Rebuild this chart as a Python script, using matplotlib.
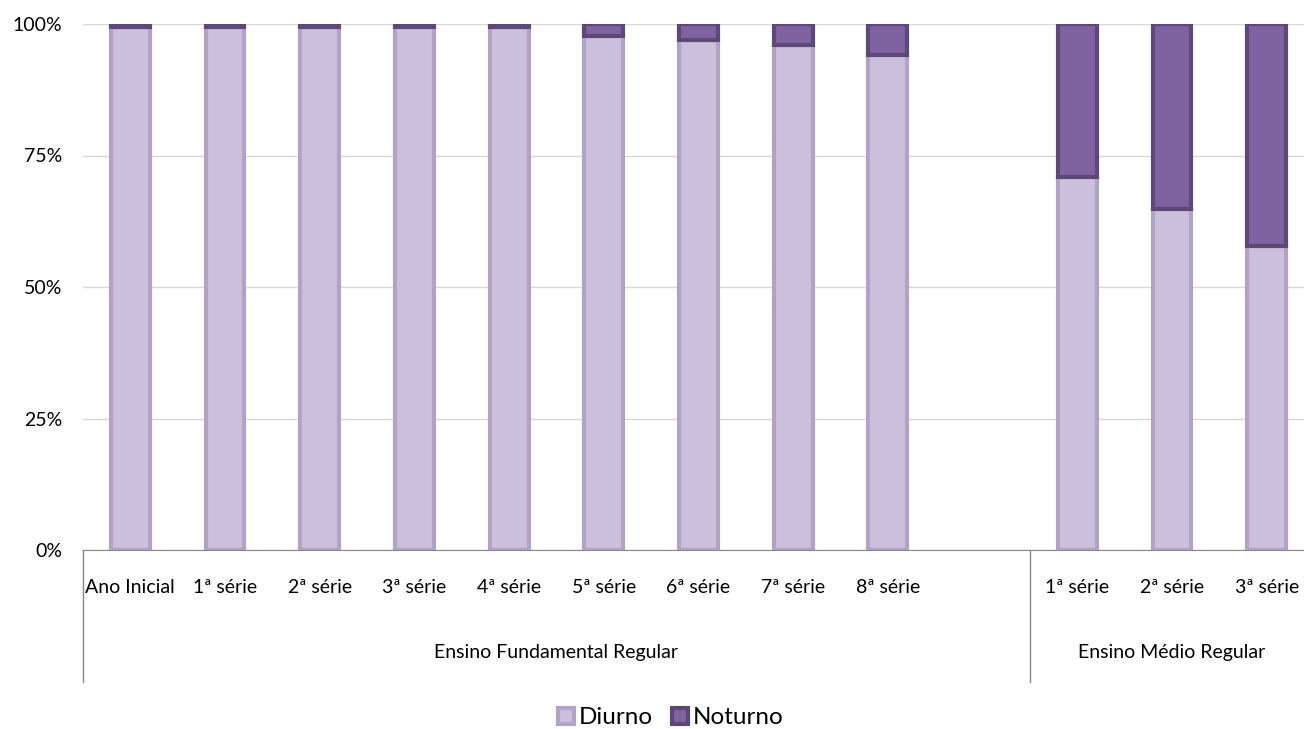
import matplotlib.pyplot as plt
from matplotlib.patches import Patch

categories = ["Ano Inicial", "1ª série", "2ª série", "3ª série", "4ª série",
              "5ª série", "6ª série", "7ª série", "8ª série", "",
              "1ª série", "2ª série", "3ª série"]
diurno = [99.5, 99.5, 99.5, 99.5, 99.5, 97.7, 97.0, 96.0, 94.1, None, 70.9, 64.8, 57.8]
groups = ["Ensino Fundamental Regular", "Ensino Médio Regular"]
group_sizes = [10, 3]

plt.rcParams["font.family"] = ["Lato", "DejaVu Sans"]

fig = plt.figure(figsize=(13.04, 7.29), dpi=100)
ax = fig.add_axes([83 / 1304, 1 - 550 / 729, (1314 - 83) / 1304, (550 - 24) / 729])

xs = [i for i, v in enumerate(diurno) if v is not None]
d = [diurno[i] for i in xs]
n = [100 - v for v in d]
w = 0.41
ax.bar(xs, d, width=w, color="#CBC0DB", edgecolor="#B3A2C7", linewidth=3, zorder=3)
ax.bar(xs, n, bottom=d, width=w, color="#7F63A0", edgecolor="#5E4878", linewidth=3, zorder=3)

ax.set_xlim(-0.5, len(categories) - 0.5)
ax.set_ylim(0, 100)
ax.set_yticks([0, 25, 50, 75, 100])
ax.set_yticklabels(["0%", "25%", "50%", "75%", "100%"], fontsize=14)
ax.yaxis.grid(True, color="#D9D9D9", linewidth=1)
ax.set_axisbelow(True)
for s in ["top", "right", "left"]:
    ax.spines[s].set_visible(False)
ax.spines["bottom"].set_color("#868686")
ax.tick_params(axis="y", length=0, pad=15)
ax.tick_params(axis="x", length=0)
ax.set_xticks(range(len(categories)))
ax.set_xticklabels(categories, fontsize=14)
ax.tick_params(axis="x", pad=21)

# group labels and separators
trans = ax.get_xaxis_transform()
start = 0
bounds = [-0.5]
for g, size in zip(groups, group_sizes):
    center = start + size / 2 - 0.5
    ax.text(center, -0.195, g, transform=trans, ha="center", va="center", fontsize=14)
    start += size
    bounds.append(start - 0.5)
for b in bounds:
    ax.plot([b, b], [0, -0.25], transform=trans, color="#868686", linewidth=1, clip_on=False)

handles = [Patch(facecolor="#CBC0DB", edgecolor="#B3A2C7", linewidth=3, label="Diurno"),
           Patch(facecolor="#7F63A0", edgecolor="#5E4878", linewidth=3, label="Noturno")]
fig.legend(handles=handles, loc="center", bbox_to_anchor=(671 / 1304, 1 - 718 / 729), ncol=2,
           frameon=False, fontsize=17.5, handlelength=0.65, handleheight=0.65,
           handletextpad=0.2, columnspacing=0.8)

fig.savefig("out.png", dpi=100)
